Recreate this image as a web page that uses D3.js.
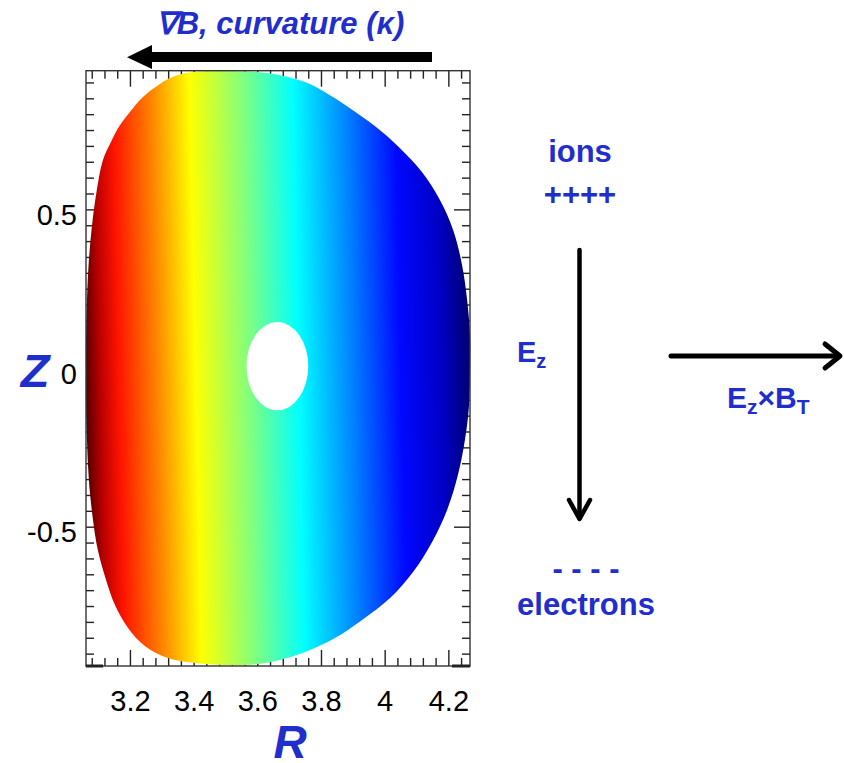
<!DOCTYPE html>
<html>
<head>
<meta charset="utf-8">
<script src="https://cdn.jsdelivr.net/npm/d3@7"></script>
<style>
  html, body { margin: 0; padding: 0; background: #fff; }
  svg { display: block; }
  text { font-family: "Liberation Sans", Arial, sans-serif; }
</style>
</head>
<body>
<svg id="chart" width="844" height="763"></svg>
<script>
// ---------------- data ----------------
const xDomain = [3.062, 4.268];
const yDomain = [-0.939, 0.937];
const xTickValues = [3.2, 3.4, 3.6, 3.8, 4.0, 4.2];
const xTickLabels = ["3.2", "3.4", "3.6", "3.8", "4", "4.2"];
const yTickValues = [-0.5, 0, 0.5];
const yTickLabels = ["-0.5", "0", "0.5"];
const xMinorStep = 0.04;
const yMinorStep = 0.05;

// plasma boundary (R, Z), clockwise from the top
const boundaryR = [3.398,3.498,3.599,
  3.671,3.750,3.828,3.891,3.970,4.045,4.117,4.174,4.215,4.243,4.259,4.268,4.268,4.265,4.252,4.230,4.196,4.149,4.089,4.017,3.929,3.844,3.750,3.671,3.599,
  3.498,3.398,
  3.319,3.247,3.194,3.153,3.125,3.099,3.084,3.071,3.065,3.062,3.062,3.062,3.065,3.071,3.081,3.096,3.115,3.143,3.169,3.200,3.241,3.294,3.341];
const boundaryZ = [0.933,0.936,0.933,
  0.923,0.901,0.860,0.819,0.762,0.696,0.618,0.529,0.435,0.325,0.214,0.104,-0.006,-0.117,-0.227,-0.337,-0.447,-0.548,-0.643,-0.725,-0.794,-0.851,-0.895,-0.920,-0.933,
  -0.936,-0.929,
  -0.914,-0.876,-0.819,-0.747,-0.668,-0.573,-0.479,-0.353,-0.227,-0.101,-0.006,0.088,0.214,0.340,0.451,0.561,0.655,0.718,0.766,0.807,0.854,0.895,0.920];

// central hole
const holeCenter = [3.663, 0.006];
const holeHalfSize = [0.097, 0.139];

// colour along R (jet, reversed)
const gradR = [3.062, 3.105, 3.165, 3.29, 3.405, 3.565, 3.73, 3.89, 4.05, 4.18, 4.268];
const gradColor = ["#5a0000", "#b80000", "#ff1400", "#ff8a00", "#ffff00", "#88ff78", "#00ffff", "#0088ff", "#0008ff", "#0000c4", "#000070"];

// annotations
const titleText = "\u2207B, curvature (\u03ba)";
const ionsText = ["ions", "++++"];
const electronsText = ["- - - -", "electrons"];

// ---------------- layout ----------------
const blue = "#1f2ecc";
const svg = d3.select("#chart");
const x = d3.scaleLinear().domain(xDomain).range([86, 470]);
const y = d3.scaleLinear().domain(yDomain).range([666, 70.7]);

const minorX = d3.range(3.08, 4.268, xMinorStep).map(v => +v.toFixed(3)).filter(v => !xTickValues.some(t => Math.abs(t - v) < 1e-6));
const minorY = d3.range(-0.9, 0.94, yMinorStep).map(v => +v.toFixed(3)).filter(v => !yTickValues.some(t => Math.abs(t - v) < 1e-6));

const axesG = svg.append("g").attr("class", "axes");
function styleAxis(g) {
  g.selectAll("path.domain").remove();
  g.selectAll("line").attr("stroke", "#222").attr("stroke-width", 1.4);
}
// bottom
axesG.append("g").attr("transform", `translate(0,666)`)
  .call(d3.axisBottom(x).tickValues(minorX).tickSizeInner(-8).tickSizeOuter(0).tickFormat(""))
  .call(styleAxis);
axesG.append("g").attr("transform", `translate(0,666)`)
  .call(d3.axisBottom(x).tickValues(xTickValues).tickSizeInner(-16).tickSizeOuter(0).tickPadding(24)
    .tickFormat((d, i) => xTickLabels[i]))
  .call(styleAxis)
  .call(g => g.selectAll("text").attr("fill", "#000").style("font-size", "29px"));
// top
axesG.append("g").attr("transform", `translate(0,70.7)`)
  .call(d3.axisTop(x).tickValues(minorX).tickSizeInner(-8).tickSizeOuter(0).tickFormat(""))
  .call(styleAxis);
axesG.append("g").attr("transform", `translate(0,70.7)`)
  .call(d3.axisTop(x).tickValues(xTickValues).tickSizeInner(-16).tickSizeOuter(0).tickFormat(""))
  .call(styleAxis);
// left
axesG.append("g").attr("transform", `translate(86,0)`)
  .call(d3.axisLeft(y).tickValues(minorY).tickSizeInner(-8).tickSizeOuter(0).tickFormat(""))
  .call(styleAxis);
axesG.append("g").attr("transform", `translate(86,0)`)
  .call(d3.axisLeft(y).tickValues(yTickValues).tickSizeInner(-16).tickSizeOuter(0).tickPadding(9)
    .tickFormat((d, i) => yTickLabels[i]))
  .call(styleAxis)
  .call(g => g.selectAll("text").attr("fill", "#000").attr("dy", "0.52em").style("font-size", "29px"));
// right
axesG.append("g").attr("transform", `translate(470,0)`)
  .call(d3.axisRight(y).tickValues(minorY).tickSizeInner(-8).tickSizeOuter(0).tickFormat(""))
  .call(styleAxis);
axesG.append("g").attr("transform", `translate(470,0)`)
  .call(d3.axisRight(y).tickValues(yTickValues).tickSizeInner(-16).tickSizeOuter(0).tickFormat(""))
  .call(styleAxis);

// gradient
const defs = svg.append("defs");
const gx1 = x(xDomain[0]), gx2 = x(xDomain[1]);
const grad = defs.append("linearGradient").attr("id", "jet")
  .attr("gradientUnits", "userSpaceOnUse")
  .attr("x1", gx1).attr("y1", y(0)).attr("x2", gx2).attr("y2", y(0) - 8);
grad.selectAll("stop").data(gradR).join("stop")
  .attr("offset", d => (x(d) - gx1) / (gx2 - gx1))
  .attr("stop-color", (d, i) => gradColor[i]);

// plasma shape
const pts = boundaryR.map((r, i) => [r, boundaryZ[i]]);
const line = d3.line().x(d => x(d[0])).y(d => y(d[1])).curve(d3.curveCatmullRomClosed.alpha(0.5));
svg.append("path").attr("d", line(pts)).attr("fill", "url(#jet)");

// hole
svg.append("ellipse")
  .attr("cx", x(holeCenter[0])).attr("cy", y(holeCenter[1]))
  .attr("rx", x(holeCenter[0] + holeHalfSize[0]) - x(holeCenter[0]))
  .attr("ry", y(holeCenter[1]) - y(holeCenter[1] + holeHalfSize[1]))
  .attr("fill", "#fff");

// frame on top
svg.append("rect").attr("x", x(xDomain[0])).attr("y", y(yDomain[1]))
  .attr("width", x(xDomain[1]) - x(xDomain[0])).attr("height", y(yDomain[0]) - y(yDomain[1]))
  .attr("fill", "none").attr("stroke", "#333").attr("stroke-width", 1.4);
svg.append("line").attr("x1", 86).attr("x2", 103).attr("y1", 666).attr("y2", 666).attr("stroke", "#222").attr("stroke-width", 3);
svg.append("line").attr("x1", 452).attr("x2", 470).attr("y1", 666).attr("y2", 666).attr("stroke", "#222").attr("stroke-width", 3);

// axis titles
svg.append("text").attr("x", 35).attr("y", 387).attr("text-anchor", "middle")
  .attr("fill", blue).style("font-size", "47px").style("font-weight", "bold").style("font-style", "italic").text("Z");
svg.append("text").attr("x", 290).attr("y", 758).attr("text-anchor", "middle")
  .attr("fill", blue).style("font-size", "46px").style("font-weight", "bold").style("font-style", "italic").text("R");

// top title and arrow
svg.append("text").attr("x", 280).attr("y", 34).attr("text-anchor", "middle")
  .attr("fill", blue).style("font-size", "31px").style("font-weight", "bold").style("font-style", "italic").text(titleText);
svg.append("rect").attr("x", 148).attr("y", 52).attr("width", 284).attr("height", 10).attr("fill", "#000");
svg.append("path").attr("d", "M127,57.3 L152,45 L152,69 Z").attr("fill", "#000");

// ions / electrons
const bold30 = s => s.attr("fill", blue).style("font-size", "31px").style("font-weight", "bold").attr("text-anchor", "middle");
svg.append("text").attr("x", 580).attr("y", 162).call(bold30).text(ionsText[0]);
svg.append("text").attr("x", 580).attr("y", 205).call(bold30).text(ionsText[1]);
svg.append("text").attr("x", 586).attr("y", 579).call(bold30).text(electronsText[0]);
svg.append("text").attr("x", 586).attr("y", 615).call(bold30).text(electronsText[1]);

// vertical arrow (E_z)
const arrowStyle = s => s.attr("stroke", "#000").attr("fill", "none").attr("stroke-linecap", "round").attr("stroke-linejoin", "round");
svg.append("line").attr("x1", 579.5).attr("y1", 250).attr("x2", 579.5).attr("y2", 518).attr("stroke-width", 4.5).call(arrowStyle);
svg.append("path").attr("d", "M569,500 L579.5,519 L590,500").attr("stroke-width", 4.5).call(arrowStyle);

// horizontal arrow (ExB)
svg.append("line").attr("x1", 671).attr("y1", 356).attr("x2", 839).attr("y2", 356).attr("stroke-width", 5).call(arrowStyle);
svg.append("path").attr("d", "M825,344 L840,356 L825,368").attr("stroke-width", 5).call(arrowStyle);

// E_z label
const ez = svg.append("text").attr("x", 517).attr("y", 362).attr("fill", blue)
  .style("font-size", "29px").style("font-weight", "bold");
ez.append("tspan").text("E");
ez.append("tspan").attr("dy", 6).style("font-size", "20px").text("z");

// E_z x B_T label
const exb = svg.append("text").attr("x", 727).attr("y", 408).attr("fill", blue)
  .style("font-size", "30px").style("font-weight", "bold");
exb.append("tspan").text("E");
exb.append("tspan").attr("dy", 6).style("font-size", "21px").text("z");
exb.append("tspan").attr("dy", -6).text("\u00d7B");
exb.append("tspan").attr("dy", 6).style("font-size", "21px").text("T");
</script>
</body>
</html>
